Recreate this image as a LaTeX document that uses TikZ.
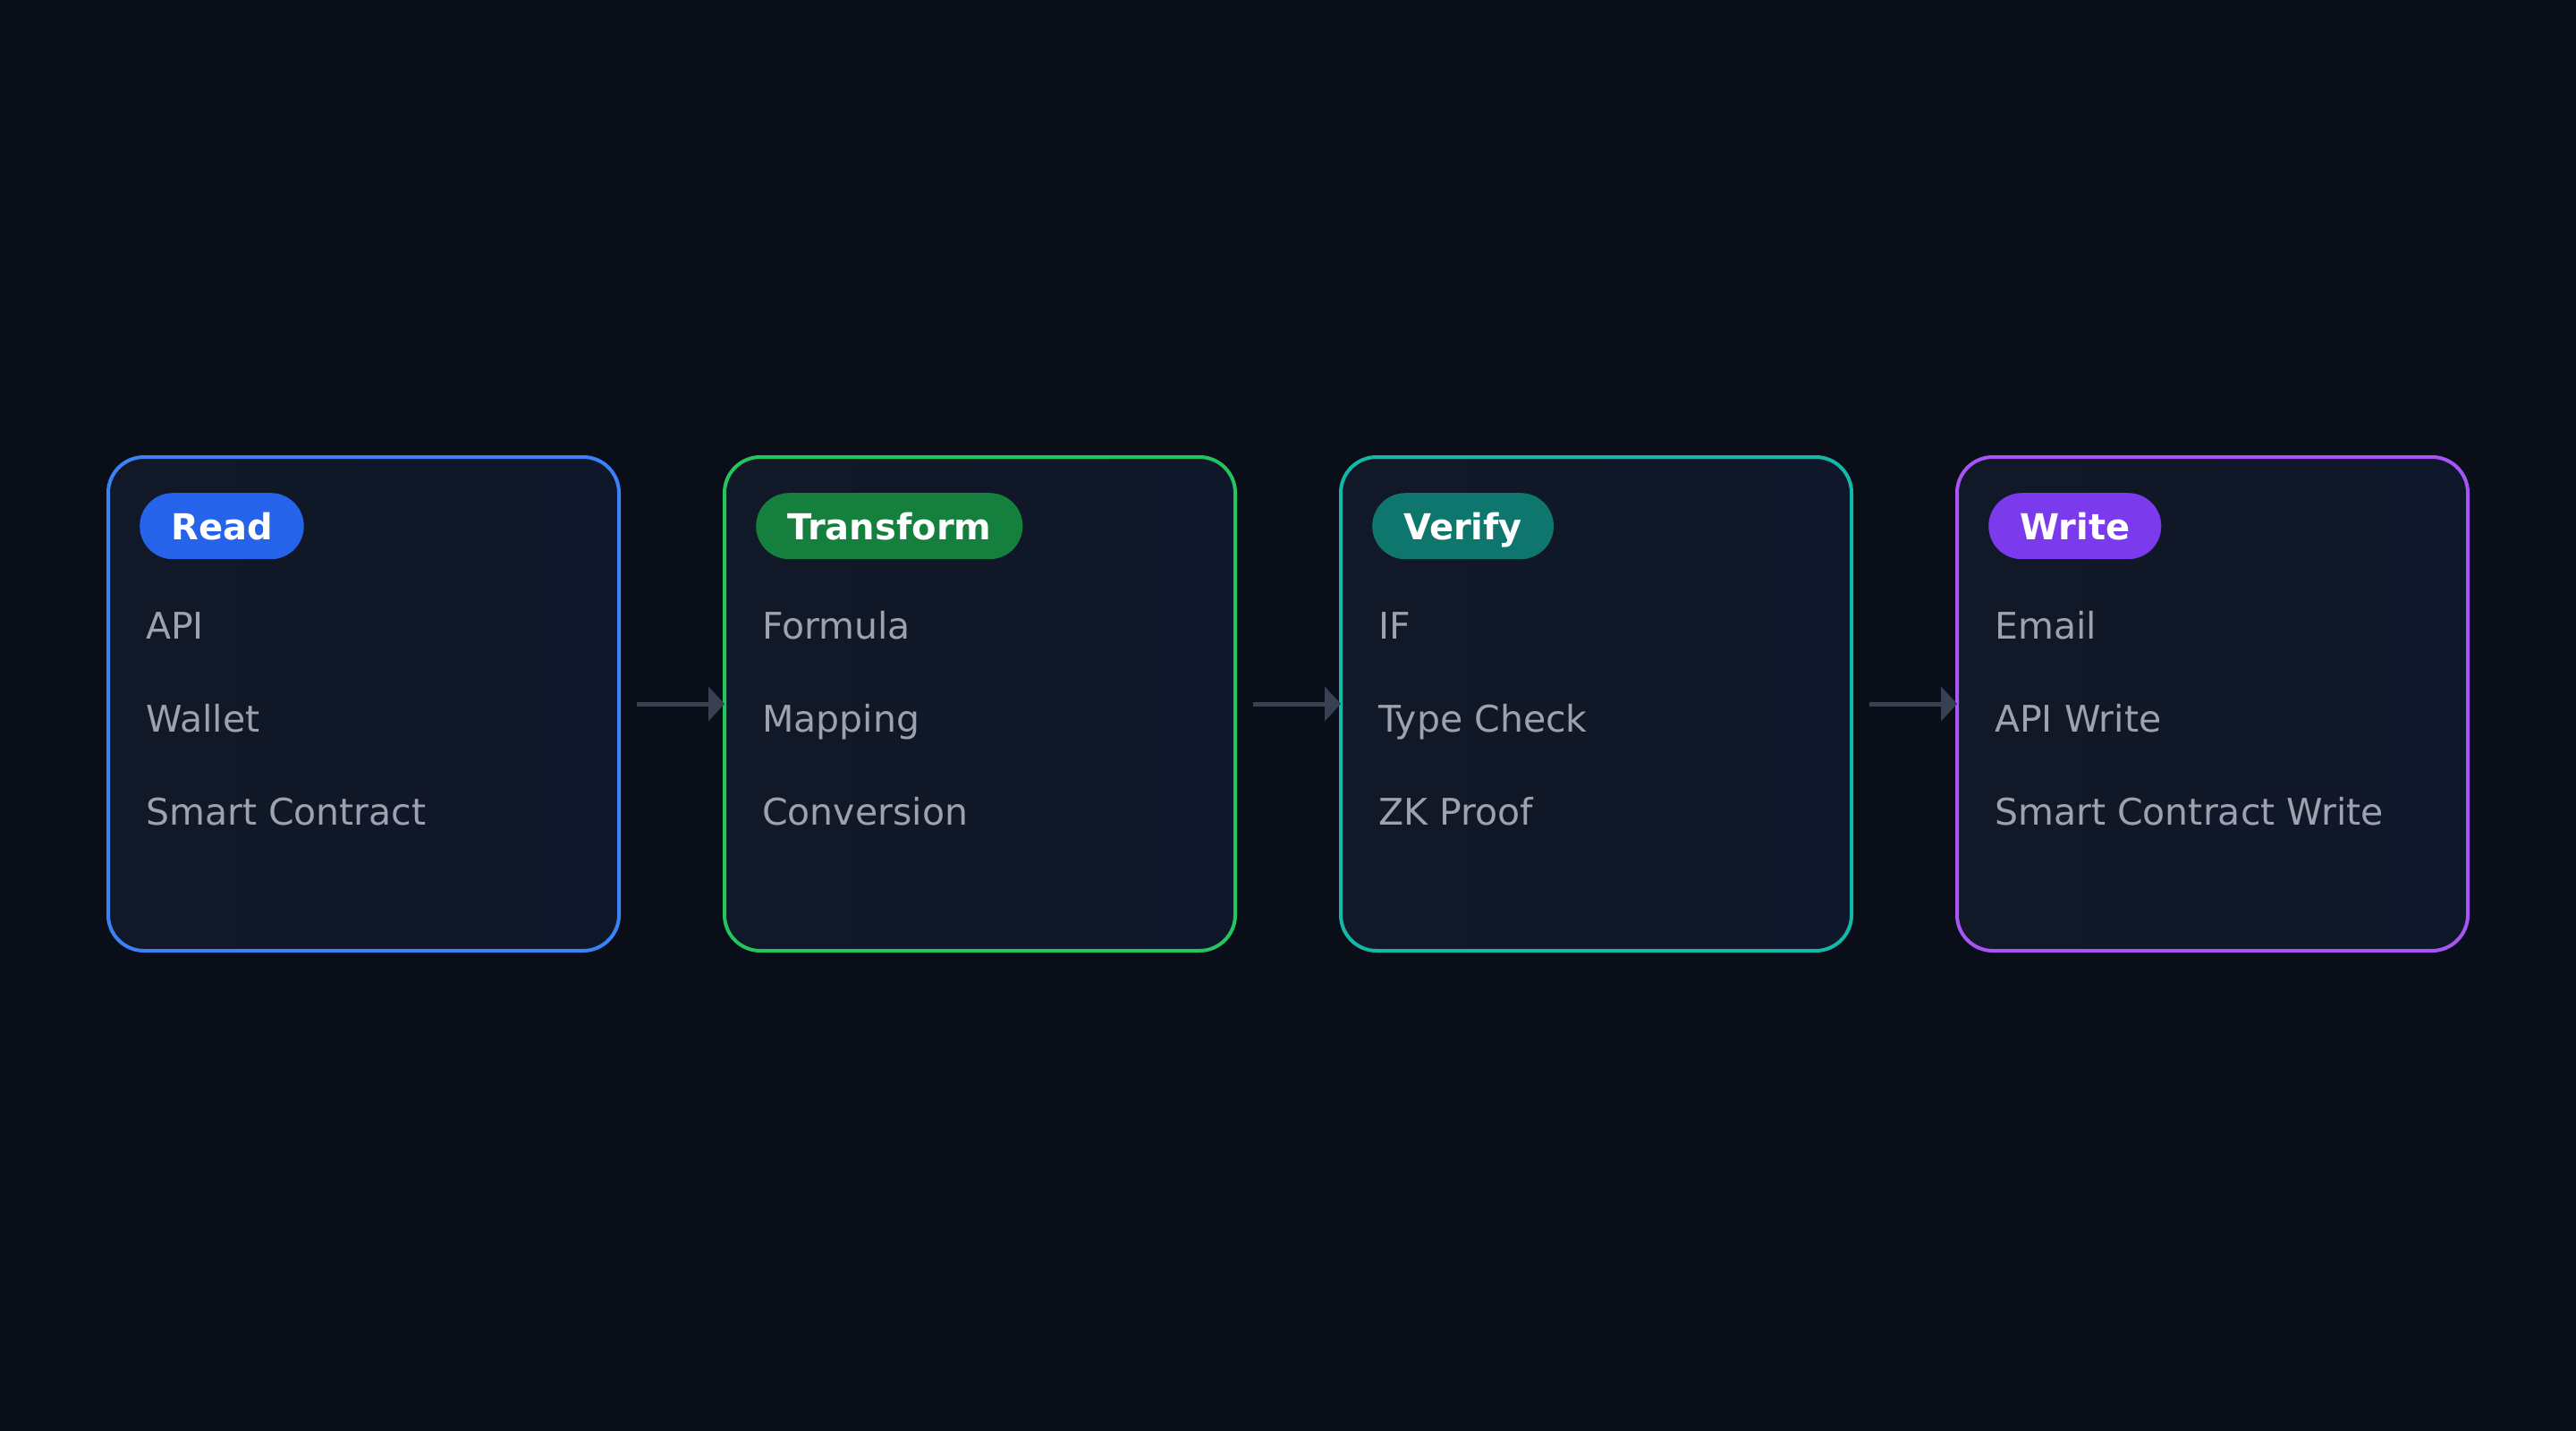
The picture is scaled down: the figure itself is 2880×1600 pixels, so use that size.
\documentclass[tikz,border=0pt]{standalone}
\usepackage{fontspec}
\setmainfont{DejaVu Sans}
\usetikzlibrary{arrows.meta}
\definecolor{bg}{HTML}{0A0E18}
\definecolor{boxfillA}{HTML}{111827}
\definecolor{boxfillB}{HTML}{0F172A}
\definecolor{itemtxt}{HTML}{9CA3AF}
\definecolor{arrowc}{HTML}{374151}
\definecolor{bluebd}{HTML}{3B82F6}
\definecolor{bluepill}{HTML}{2563EB}
\definecolor{greenbd}{HTML}{22C55E}
\definecolor{greenpill}{HTML}{15803D}
\definecolor{tealbd}{HTML}{14B8A6}
\definecolor{tealpill}{HTML}{0F766E}
\definecolor{purplebd}{HTML}{A855F7}
\definecolor{purplepill}{HTML}{7C3AED}
\tikzset{
  stagebox/.style={draw=#1, line width=4pt, rounded corners=40pt,
    left color=boxfillA, right color=boxfillB,
    minimum width=571pt, minimum height=552pt, inner sep=0pt, outer sep=0pt},
  pill/.style={fill=#1, rounded corners=37pt, minimum height=74pt,
    text height=30pt, text depth=0pt,
    inner xsep=35pt, inner ysep=0pt, anchor=north west, text=white,
    font=\fontsize{40}{48}\selectfont\bfseries},
  item/.style={anchor=base west, text=itemtxt, inner sep=0pt,
    font=\fontsize{41}{48}\selectfont},
  flowarrow/.style={draw=arrowc, line width=5pt,
    -{Triangle[length=18pt,width=38pt]}}
}
\begin{document}
\begin{tikzpicture}[x=1pt,y=-1pt]
\useasboundingbox (0,0) rectangle (2880,1600);
\fill[bg] (0,0) rectangle (2880,1600);

\node[stagebox=bluebd]   (b1) at (406.5,787) {};
\node[stagebox=greenbd]  (b2) at (1095.5,787) {};
\node[stagebox=tealbd]   (b3) at (1784.5,787) {};
\node[stagebox=purplebd] (b4) at (2473.5,787) {};

\node[pill=bluepill]   (p1) at ([shift={(35,40)}]b1.north west) {Read};
\node[pill=greenpill]  (p2) at ([shift={(35,40)}]b2.north west) {Transform};
\node[pill=tealpill]   (p3) at ([shift={(35,40)}]b3.north west) {Verify};
\node[pill=purplepill] (p4) at ([shift={(35,40)}]b4.north west) {Write};

\node[item] (i11) at ([shift={(42,203)}]b1.north west) {API};
\node[item] (i12) at ([shift={(42,307)}]b1.north west) {Wallet};
\node[item] (i13) at ([shift={(42,411)}]b1.north west) {Smart Contract};

\node[item] (i21) at ([shift={(42,203)}]b2.north west) {Formula};
\node[item] (i22) at ([shift={(42,307)}]b2.north west) {Mapping};
\node[item] (i23) at ([shift={(42,411)}]b2.north west) {Conversion};

\node[item] (i31) at ([shift={(42,203)}]b3.north west) {IF};
\node[item] (i32) at ([shift={(42,307)}]b3.north west) {Type Check};
\node[item] (i33) at ([shift={(42,411)}]b3.north west) {ZK Proof};

\node[item] (i41) at ([shift={(42,203)}]b4.north west) {Email};
\node[item] (i42) at ([shift={(42,307)}]b4.north west) {API Write};
\node[item] (i43) at ([shift={(42,411)}]b4.north west) {Smart Contract Write};

\draw[flowarrow] ([xshift=20pt]b1.east) -- (b2.west);
\draw[flowarrow] ([xshift=20pt]b2.east) -- (b3.west);
\draw[flowarrow] ([xshift=20pt]b3.east) -- (b4.west);
\end{tikzpicture}
\end{document}
